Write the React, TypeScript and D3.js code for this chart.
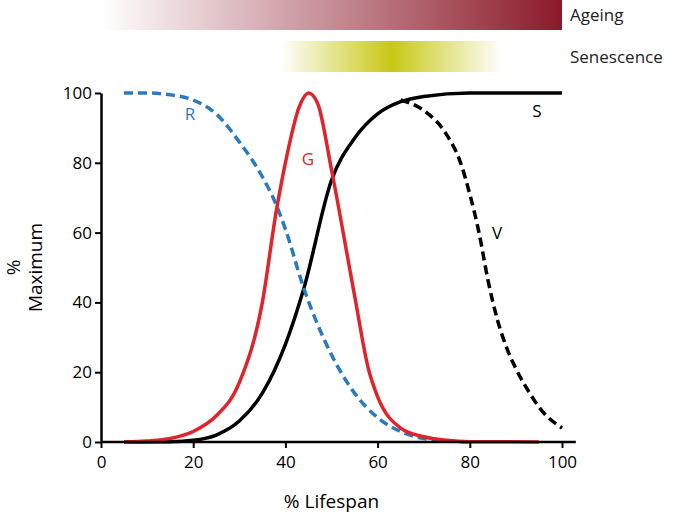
import React, { useEffect, useRef } from 'react';
import * as d3 from 'd3';

// % Lifespan vs % Maximum for each curve
const rX = [5, 10, 15, 20, 25, 30, 35, 38, 40, 44, 50, 55, 60, 65, 70, 75, 80];
const rY = [100, 100, 99.5, 98, 94, 86, 76, 68, 61, 44, 25, 14, 7, 3, 1, 0.3, 0];
const gX = [5, 10, 15, 20, 25, 30, 35, 38, 40, 43, 45, 47, 50, 55, 58, 60, 65, 70, 75, 80, 95];
const gY = [0, 0.3, 1, 3, 7.5, 17, 40, 66, 80, 96, 100, 97, 78, 42, 21, 13, 4, 1.5, 0.5, 0.1, 0];
const sX = [5, 15, 20, 25, 30, 35, 40, 44, 50, 55, 60, 65, 70, 80, 100];
const sY = [0, 0.1, 0.5, 2, 6, 14, 28, 44, 75, 87, 94, 97.5, 99, 100, 100];
const vX = [65, 70, 75, 78, 80, 82, 84, 86, 88, 90, 93, 95, 100];
const vY = [98, 95, 88, 80, 71, 60, 46, 35, 27, 21, 14, 10, 4];
const xTicks = [0, 20, 40, 60, 80, 100];
const yTicks = [0, 20, 40, 60, 80, 100];

const App: React.FC = () => {
  const svgRef = useRef<SVGSVGElement>(null);

  useEffect(() => {
    if (!svgRef.current) return;
    const svg = d3.select(svgRef.current);
    svg.selectAll('*').remove();
    const font = "'Open Sans', sans-serif";

    const x = d3.scaleLinear().domain([0, 100]).range([101, 562]);
    const y = d3.scaleLinear().domain([0, 100]).range([442, 93]);

    const defs = svg.append('defs');
    const ag = defs.append('linearGradient').attr('id', 'ageing');
    ag.append('stop').attr('offset', '0%').attr('stop-color', '#8b1a2a').attr('stop-opacity', 0);
    ag.append('stop').attr('offset', '100%').attr('stop-color', '#8b1a2a').attr('stop-opacity', 1);
    const sg = defs.append('linearGradient').attr('id', 'senes');
    sg.append('stop').attr('offset', '0%').attr('stop-color', '#c8c814').attr('stop-opacity', 0);
    sg.append('stop').attr('offset', '50%').attr('stop-color', '#c8c814').attr('stop-opacity', 1);
    sg.append('stop').attr('offset', '100%').attr('stop-color', '#c8c814').attr('stop-opacity', 0);

    svg.append('rect').attr('x', x(0)).attr('y', 0).attr('width', x(100) - x(0)).attr('height', 30).attr('fill', 'url(#ageing)');
    svg.append('rect').attr('x', x(39)).attr('y', 41).attr('width', x(87) - x(39)).attr('height', 31).attr('fill', 'url(#senes)');
    svg.append('text').attr('x', 570).attr('y', 21).text('Ageing')
      .style('font-family', font).style('font-size', '17px').style('fill', '#222');
    svg.append('text').attr('x', 570).attr('y', 63).text('Senescence')
      .style('font-family', font).style('font-size', '17px').style('fill', '#222');

    const line = d3.line<number>().curve(d3.curveMonotoneX);
    const draw = (xs: number[], ys: number[], color: string, dash?: string) => {
      const p = svg.append('path')
        .attr('d', line.x(i => x(xs[i])).y(i => y(ys[i]))(d3.range(xs.length)))
        .attr('fill', 'none').attr('stroke', color).attr('stroke-width', 3.5);
      if (dash) p.attr('stroke-dasharray', dash);
    };
    draw(sX, sY, '#000');
    draw(vX, vY, '#000', '9,5');
    draw(rX, rY, '#2a7abf', '9,5');
    draw(gX, gY, '#e0242c');

    const labels = [
      { t: 'R', x: 190, y: 120, c: '#2a7abf' },
      { t: 'G', x: 308, y: 165, c: '#e0242c' },
      { t: 'S', x: 537, y: 117, c: '#000' },
      { t: 'V', x: 497, y: 239, c: '#000' },
    ];
    labels.forEach(l => svg.append('text').attr('x', l.x).attr('y', l.y).attr('text-anchor', 'middle')
      .style('font-family', font).style('font-size', '17px').style('fill', l.c).text(l.t));

    const xa = svg.append('g').attr('transform', `translate(0,${y(0)})`)
      .call(d3.axisBottom(x).tickValues(xTicks).tickSize(6).tickSizeOuter(0));
    const ya = svg.append('g').attr('transform', `translate(${x(0)},0)`)
      .call(d3.axisLeft(y).tickValues(yTicks).tickSize(6).tickSizeOuter(0));
    [xa, ya].forEach(a => {
      a.select('.domain').attr('stroke-width', 2.5);
      a.selectAll('line').attr('stroke-width', 2);
      a.selectAll('text').style('font-family', font).style('font-size', '17px').style('fill', '#000');
    });
    svg.select('g').select('.domain').attr('d', `M${x(0)},0H${x(103)}`);
    xa.selectAll('text').attr('dy', '1em');

    svg.append('text').attr('x', x(50)).attr('y', 508).attr('text-anchor', 'middle')
      .style('font-family', font).style('font-size', '19px').text('% Lifespan');
    const yl = svg.append('text').attr('transform', `translate(40,${y(50)}) rotate(-90)`).attr('text-anchor', 'middle')
      .style('font-family', font).style('font-size', '19px');
    yl.append('tspan').attr('x', 0).attr('dy', '-1.05em').text('%');
    yl.append('tspan').attr('x', 0).attr('dy', '1.15em').text('Maximum');
  }, []);

  return (
    <svg ref={svgRef} width={679} height={518}
      style={{ position: 'absolute', left: 0, top: 0, background: '#fff' }} />
  );
};

export default App;
